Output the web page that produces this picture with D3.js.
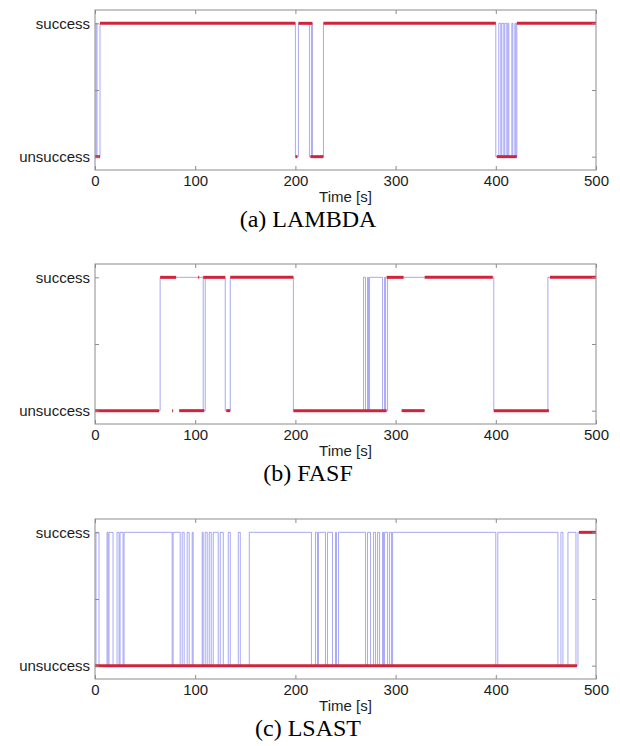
<!DOCTYPE html>
<html>
<head>
<meta charset="utf-8">
<script src="https://cdn.jsdelivr.net/npm/d3@7"></script>
<style>
    body { margin: 0; background: #fff; }
    svg text { font-family: "Liberation Sans", Arial, sans-serif; }
</style>
</head>
<body>
<div id="chart"></div>
<script>
const WIDTH = 620;
const HEIGHT = 746;
const PANEL_HEIGHT = 160;

// axis ticks
const timeTicks = [0, 100, 200, 300, 400, 500];
const stateTicks = [0, 0.5, 1];
const stateLabels = ["unsuccess", "", "success"];
const captions = ["(a) LAMBDA", "(b) FASF", "(c) LSAST"];

// blue trace: switching times [s] and state after each switch (1 = success)
const lambdaTimes = [0, 1, 2, 5, 200, 203, 214, 216, 217, 228, 400, 403, 405, 406, 408, 409,
    411, 412, 413, 416, 417, 419, 420, 421, 500];
const lambdaStates = [0, 1, 0, 1, 0, 1, 0, 1, 0, 1, 0, 1, 0, 1, 0, 1,
    0, 1, 0, 1, 0, 1, 0, 1, 1];

const fasfTimes = [0, 65, 108, 110, 130, 135, 198, 268, 270, 272, 273, 274, 287, 289, 290, 292,
    398, 452, 500];
const fasfStates = [0, 1, 0, 1, 0, 1, 0, 1, 0, 1, 0, 1, 0, 1, 0, 1,
    0, 1, 1];

const lsastTimes = [0, 1, 4, 12, 13, 14, 18, 22, 24, 25, 28, 29, 77, 78, 85, 87, 89, 92, 94, 97,
    98, 107, 108, 110, 112, 114, 116, 118, 123, 125, 128, 133, 135, 143, 145, 154, 216, 220, 222,
    223, 230, 232, 237, 240, 241, 243, 270, 272, 275, 278, 280, 282, 284, 287, 288, 289, 292, 294,
    296, 297, 400, 402, 462, 465, 467, 472, 480, 482, 500];
const lsastStates = [0, 1, 0, 1, 0, 1, 0, 1, 0, 1, 0, 1, 0, 1, 0, 1, 0, 1, 0, 1,
    0, 1, 0, 1, 0, 1, 0, 1, 0, 1, 0, 1, 0, 1, 0, 1, 0, 1, 0,
    1, 0, 1, 0, 1, 0, 1, 0, 1, 0, 1, 0, 1, 0, 1, 0, 1, 0, 1,
    0, 1, 0, 1, 0, 1, 0, 1, 0, 1, 1];

// red trace: [from, to, state]
const lambdaFix = [[0, 5, 0], [5, 200, 1], [200, 202, 0], [203, 217, 1], [215, 228, 0],
    [228, 400, 1], [401, 421, 0], [421, 500, 1]];
const fasfFix = [[0, 64, 0], [65, 81, 1], [77, 78, 0], [84, 109, 0], [103, 104, 1],
    [108, 130, 1], [131, 135, 0], [135, 198, 1], [198, 291, 0], [291, 308, 1],
    [306, 329, 0], [329, 397, 1], [398, 453, 0], [454, 500, 1]];
const lsastFix = [[0, 481, 0], [483, 500, 1]];

const panels = [
    {top: 10, times: lambdaTimes, states: lambdaStates, fix: lambdaFix},
    {top: 264, times: fasfTimes, states: fasfStates, fix: fasfFix},
    {top: 519, times: lsastTimes, states: lsastStates, fix: lsastFix}
];

const svg = d3.select("#chart").append("svg")
    .attr("width", WIDTH)
    .attr("height", HEIGHT);

const x = d3.scaleLinear()
    .domain([0, 500])
    .range([95, 596]);

function drawPanel(panel, caption) {

    let top = panel.top,
        bottom = top + PANEL_HEIGHT;

    let y = d3.scaleLinear()
        .domain([-0.1, 1.1])
        .range([bottom, top]);

    let g = svg.append("g").attr("class", "panel");

    let line = d3.line()
        .x(d => x(d[0]))
        .y(d => y(d[1]))
        .curve(d3.curveStepAfter);

    g.append("path")
        .datum(d3.zip(panel.times, panel.states))
        .attr("d", line)
        .attr("fill", "none")
        .attr("stroke", "#6f6fee")
        .attr("stroke-opacity", 0.6)
        .attr("stroke-width", 1);

    g.selectAll(".fix")
        .data(panel.fix)
        .join("line")
        .attr("class", "fix")
        .attr("x1", d => x(d[0]))
        .attr("x2", d => x(d[1]))
        .attr("y1", d => y(d[2]))
        .attr("y2", d => y(d[2]))
        .attr("stroke", "#d0243c")
        .attr("stroke-width", 3);

    // box
    g.append("rect")
        .attr("x", x(0))
        .attr("y", top)
        .attr("width", x(500) - x(0))
        .attr("height", PANEL_HEIGHT)
        .attr("fill", "none")
        .attr("stroke", "#8c8c8c");

    let axes = [
        {axis: d3.axisBottom(x).tickValues(timeTicks), at: [0, bottom], text: true},
        {axis: d3.axisTop(x).tickValues(timeTicks), at: [0, top], text: false},
        {axis: d3.axisLeft(y).tickValues(stateTicks).tickFormat((d, i) => stateLabels[i]), at: [x(0), 0], text: true},
        {axis: d3.axisRight(y).tickValues(stateTicks), at: [x(500), 0], text: false}
    ];

    axes.forEach(a => {
        let ax = g.append("g")
            .attr("transform", "translate(" + a.at[0] + "," + a.at[1] + ")")
            .attr("color", "#8c8c8c")
            .call(a.axis.tickSizeInner(-4).tickSizeOuter(0).tickPadding(5));
        ax.select(".domain").remove();
        if (!a.text) {
            ax.selectAll("text").remove();
        }
        ax.selectAll("text")
            .attr("fill", "#1c1c1c")
            .attr("font-size", 15)
            .attr("font-family", "Liberation Sans, Arial, sans-serif");
    });

    g.append("text")
        .attr("x", (x(0) + x(500)) / 2)
        .attr("y", bottom + 32)
        .attr("text-anchor", "middle")
        .attr("font-size", 15)
        .attr("fill", "#1c1c1c")
        .text("Time [s]");

    g.append("text")
        .attr("x", 308)
        .attr("y", bottom + 57)
        .attr("text-anchor", "middle")
        .attr("font-size", 24)
        .style("font-family", "'Liberation Serif', 'Times New Roman', serif")
        .attr("fill", "#000")
        .text(caption);
}

panels.forEach((p, i) => drawPanel(p, captions[i]));
</script>
</body>
</html>
